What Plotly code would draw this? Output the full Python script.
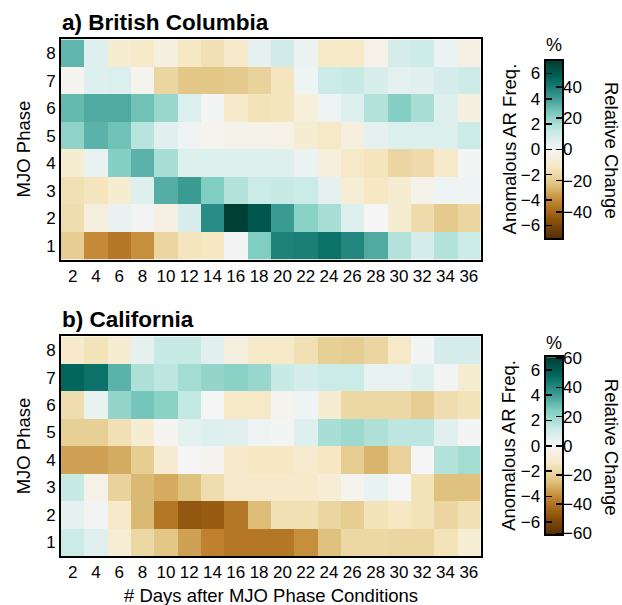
import numpy as np
import plotly.graph_objects as go

W = 622
FIG_H = 616   # a little taller than the window so the bottom title is not clipped

days = [2, 4, 6, 8, 10, 12, 14, 16, 18, 20, 22, 24, 26, 28, 30, 32, 34, 36]
phases = [1, 2, 3, 4, 5, 6, 7, 8]
phase_ticks = ["1", "2", "3", "4", "5", "6", "7", "8"]

# Anomalous AR frequency, rows listed from phase 8 (top) down to phase 1
bc_rows_top_down = [
    [3.4, 0.7, -1.0, -1.2, -0.6, -1.4, -1.7, -1.2, 0.5, 1.1, 0.3, -1.3, -1.3, -0.4, 1.0, 1.2, 0.3, -0.5],
    [-0.1, 0.7, 0.8, -0.2, -2.1, -2.6, -2.6, -2.5, -2.2, -1.5, 0.2, 1.3, 1.4, 0.9, 0.5, 0.6, 1.0, 1.2],
    [3.3, 3.7, 3.7, 3.1, 2.3, 0.8, 0.05, -1.2, -1.6, -1.5, -0.7, 0.25, 0.7, 1.8, 2.7, 2.0, 0.7, -0.6],
    [2.5, 3.5, 3.1, 1.7, 0.6, 0.2, -0.2, -0.3, -0.3, -0.4, -1.0, -1.3, -0.6, 0.5, 0.8, 0.8, 0.8, 1.3],
    [-1.0, 0.4, 2.7, 3.5, 2.0, 0.7, 0.7, 0.7, 0.7, 0.7, 0.3, -0.7, -1.3, -1.5, -2.1, -1.9, -1.3, 0.05],
    [-1.7, -1.5, -1.0, 0.7, 3.6, 4.1, 2.8, 1.8, 1.3, 1.4, 1.3, 0.5, -0.9, -1.4, -1.0, -0.3, 0.2, 0.2],
    [-1.8, -0.6, 0.35, 0.05, -0.5, 0.9, 4.5, 6.9, 6.1, 4.1, 2.6, 2.0, 0.7, 0.0, -1.0, -1.9, -2.5, -2.1],
    [-2.4, -4.0, -4.5, -3.9, -2.1, -1.5, -1.4, 0.05, 2.8, 4.8, 4.9, 5.3, 4.7, 3.7, 1.8, 1.0, 1.8, 1.3],
]
ca_rows_top_down = [
    [-1.2, -1.6, -1.0, 0.5, 1.4, 1.4, 0.6, -0.6, -1.3, -1.3, -1.7, -2.3, -2.4, -2.1, -1.3, 0.05, 1.0, 1.0],
    [5.6, 5.3, 3.5, 1.9, 1.6, 2.1, 2.4, 2.6, 2.3, 1.4, 1.0, 1.3, 1.3, 0.4, 0.4, 0.7, 0.1, -1.0],
    [-1.8, 0.4, 2.4, 3.0, 2.6, 1.5, 0.0, -1.3, -1.3, -0.2, 0.2, -1.0, -2.0, -2.0, -2.0, -2.4, -1.8, -1.6],
    [-2.3, -2.3, -1.7, -1.0, -0.1, 0.55, 0.7, 0.6, 0.2, 0.05, 0.7, 2.0, 2.2, 1.9, 1.6, 1.6, 0.6, 0.05],
    [-3.5, -3.5, -3.3, -2.4, -1.0, 0.0, -0.1, -1.2, -1.4, -1.4, -1.1, -1.4, -2.4, -3.1, -2.2, 0.0, 1.8, 2.1],
    [1.4, -0.4, -2.2, -3.0, -3.3, -2.8, -1.8, -1.2, -1.2, -1.2, -1.2, -0.9, -0.2, 0.4, 0.0, -1.6, -2.8, -2.8],
    [0.5, 0.1, -1.2, -3.0, -4.5, -5.4, -5.3, -4.5, -2.9, -1.7, -1.7, -2.1, -2.4, -1.6, -1.4, -1.6, -2.1, -1.7],
    [1.3, 0.6, -0.9, -2.0, -2.6, -3.5, -4.2, -4.5, -4.5, -4.5, -3.9, -2.8, -2.0, -2.0, -2.1, -2.1, -1.6, -0.9],
]
bc_anom = bc_rows_top_down[::-1]
ca_anom = ca_rows_top_down[::-1]

anom_ticks = [-6, -4, -2, 0, 2, 4, 6]
bc_rel_ticks = [-40, -20, 0, 20, 40]
ca_rel_ticks = [-60, -40, -20, 0, 20, 40, 60]
bc_rel_limit = 56.8   # % at the colour bar ends (anomaly = +/-7)
ca_rel_limit = 60.7
zlim = 7

brbg = ['rgb(84,48,5)', 'rgb(140,81,10)', 'rgb(191,129,45)', 'rgb(223,194,125)',
        'rgb(246,232,195)', 'rgb(245,245,245)', 'rgb(199,234,229)', 'rgb(128,205,193)',
        'rgb(53,151,143)', 'rgb(1,102,94)', 'rgb(0,60,48)']
cscale = [[i / 10, c] for i, c in enumerate(brbg)]

FONT = "Liberation Sans, Arial, sans-serif"
Y_OFF, Y_SCALE = 8.3, 0.971   # observed vertical mapping of the photographed page

def px(x):
    return x / W
def py(y):
    ycss = (y - Y_OFF) / Y_SCALE
    return 1 - ycss / FIG_H

fig = go.Figure()

# main heatmaps
fig.add_trace(go.Heatmap(x=days, y=phases, z=bc_anom, colorscale=cscale, zmin=-zlim, zmax=zlim,
                         showscale=False, xaxis="x", yaxis="y"))
fig.add_trace(go.Heatmap(x=days, y=phases, z=ca_anom, colorscale=cscale, zmin=-zlim, zmax=zlim,
                         showscale=False, xaxis="x2", yaxis="y2"))

# hand-built colour bars
cb_levels = np.linspace(-zlim, zlim, 281)
cb_z = [[v] for v in cb_levels]
fig.add_trace(go.Heatmap(x=[0], y=cb_levels, z=cb_z, colorscale=cscale, zmin=-zlim, zmax=zlim,
                         showscale=False, xaxis="x3", yaxis="y3", hoverinfo="skip"))
fig.add_trace(go.Heatmap(x=[0], y=cb_levels, z=cb_z, colorscale=cscale, zmin=-zlim, zmax=zlim,
                         showscale=False, xaxis="x4", yaxis="y4", hoverinfo="skip"))
fig.add_trace(go.Scatter(x=[None], y=[None], xaxis="x3", yaxis="y5", showlegend=False, hoverinfo="skip"))
fig.add_trace(go.Scatter(x=[None], y=[None], xaxis="x4", yaxis="y6", showlegend=False, hoverinfo="skip"))

main_x = [px(61), px(480.5)]
ya_dom = [py(259.5), py(39.7)]
yb_dom = [py(555.5), py(336.3)]
cbx = [px(545.5), px(562)]
cba = [py(238), py(61)]
cbb = [py(534), py(357)]

tickfont = dict(family=FONT, size=17, color="black")
frame = dict(showline=True, linewidth=2, linecolor="black", mirror=True)

xcommon = dict(tickvals=days, ticktext=[str(d) for d in days], range=[1, 37], ticks="",
               tickfont=tickfont, showgrid=False, zeroline=False, **frame)
ycommon = dict(tickvals=phases, ticktext=phase_ticks, range=[0.5, 8.5], ticks="",
               tickfont=tickfont, showgrid=False, zeroline=False, **frame)

cbxcommon = dict(range=[-0.5, 0.5], showticklabels=False, ticks="", showgrid=False,
                 zeroline=False, **frame)
cbyleft = dict(range=[-zlim, zlim], tickvals=anom_ticks, ticks="inside", ticklen=6, tickwidth=1.5,
               tickcolor="black", tickfont=tickfont, showgrid=False, zeroline=False, side="left",
               **frame)

fig.update_layout(
    width=W, height=FIG_H, margin=dict(l=0, r=0, t=0, b=0),
    paper_bgcolor="white", plot_bgcolor="white", showlegend=False,
    font=dict(family=FONT, color="black"),
    xaxis=dict(domain=main_x, anchor="y", **xcommon),
    yaxis=dict(domain=ya_dom, anchor="x", **ycommon),
    xaxis2=dict(domain=main_x, anchor="y2", **xcommon),
    yaxis2=dict(domain=yb_dom, anchor="x2", **ycommon),
    xaxis3=dict(domain=cbx, anchor="y3", **cbxcommon),
    yaxis3=dict(domain=cba, anchor="x3", **cbyleft),
    xaxis4=dict(domain=cbx, anchor="y4", **cbxcommon),
    yaxis4=dict(domain=cbb, anchor="x4", **cbyleft),
    yaxis5=dict(overlaying="y3", anchor="x3", side="right", range=[-bc_rel_limit, bc_rel_limit],
                tickvals=bc_rel_ticks, ticks="inside", ticklen=6, tickwidth=1.5, tickcolor="black",
                tickfont=tickfont, showgrid=False, zeroline=False, showline=False),
    yaxis6=dict(overlaying="y4", anchor="x4", side="right", range=[-ca_rel_limit, ca_rel_limit],
                tickvals=ca_rel_ticks, ticks="inside", ticklen=6, tickwidth=1.5, tickcolor="black",
                tickfont=tickfont, showgrid=False, zeroline=False, showline=False),
)

def note(text, x, y, size=18.5, bold=False, angle=0, xanchor="center"):
    fig.add_annotation(text=f"<b>{text}</b>" if bold else text, x=px(x), y=py(y),
                       xref="paper", yref="paper", showarrow=False, textangle=angle,
                       xanchor=xanchor, yanchor="middle",
                       font=dict(family=FONT, size=size, color="black"))

note("a) British Columbia", 60, 23, size=22.5, bold=True, xanchor="left")
note("b) California", 60, 319, size=22.5, bold=True, xanchor="left")
note("MJO Phase", 23, 149.5, angle=-90)
note("MJO Phase", 23, 446, angle=-90)
note("# Days after MJO Phase Conditions", 271, 595)
note("%", 554, 45.5, size=18)
note("%", 554, 343, size=18)
note("Anomalous AR Freq.", 509, 149.5, angle=-90)
note("Anomalous AR Freq.", 509, 445.5, angle=-90)
note("Relative Change", 611, 150, angle=90)
note("Relative Change", 611, 446.5, angle=90)

fig.write_html("out.html", config={"displayModeBar": False, "staticPlot": True},
               post_script="document.body.style.margin='0';document.body.style.padding='0';")
